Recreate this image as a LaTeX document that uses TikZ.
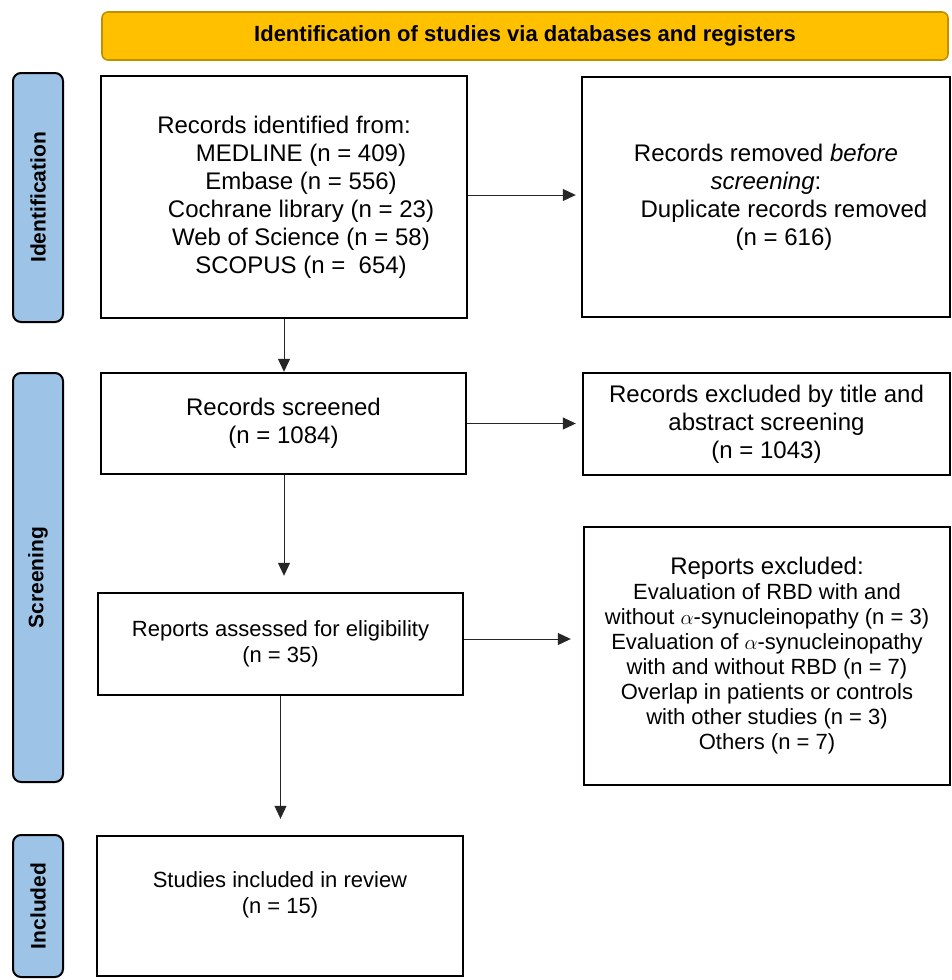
\documentclass[tikz,border=0pt]{standalone}
\usepackage{fontspec}
\setmainfont{Liberation Sans}
\usetikzlibrary{arrows.meta}
\definecolor{hdrfill}{HTML}{FFC000}
\definecolor{hdrline}{HTML}{C09000}
\definecolor{phasefill}{HTML}{9DC3E6}
\tikzset{
  box/.style={draw, line width=2.4pt, align=center, inner sep=0pt},
  phase/.style={draw, line width=2pt, rounded corners=8pt, fill=phasefill, minimum width=50pt,
    font=\fontsize{21}{24}\selectfont\bfseries},
  arr/.style={draw=black!85, line width=1pt, -{Triangle[length=13pt,width=12pt]}},
  big/.style={font=\fontsize{24}{28}\selectfont},
  small/.style={font=\fontsize{22}{26}\selectfont}
}
\begin{document}
\begin{tikzpicture}[x=1pt,y=-1pt]
  \useasboundingbox (0,0) rectangle (951,980);

  \node[draw=hdrline, line width=1.6pt, fill=hdrfill, rounded corners=6pt, minimum width=846pt,
    minimum height=48pt, font=\fontsize{22}{26}\selectfont\bfseries] (hdr) at (525,36)
    {Identification of studies via databases and registers};

  \node[phase, minimum height=249pt] (ph-id) at (38,197.5) {\rotatebox{90}{Identification}};
  \node[phase, minimum height=409pt] (ph-scr) at (38,577.5) {\rotatebox{90}{Screening}};
  \node[phase, minimum height=142pt] (ph-inc) at (38,906) {\rotatebox{90}{Included}};

  \node[box, big, minimum width=366pt, minimum height=242pt] (ident) at (284,197)
    {Records identified from:\\ \hspace*{34pt}MEDLINE (n = 409)\\ \hspace*{34pt}Embase (n = 556)\\
     \hspace*{34pt}Cochrane library (n = 23)\\ \hspace*{34pt}Web of Science (n = 58)\\
     \hspace*{34pt}SCOPUS (n = \ 654)};
  \node[box, big, minimum width=368pt, minimum height=240pt] (removed) at (766,197)
    {Records removed \textit{before}\\ \textit{screening}:\\ \hspace*{36pt}Duplicate records removed\\
     \hspace*{36pt}(n = 616)};
  \node[box, big, minimum width=365pt, minimum height=101pt] (screened) at (283.5,423.5)
    {Records screened\\ (n = 1084)};
  \node[box, big, minimum width=367pt, minimum height=102pt] (excl-ta) at (766.5,424)
    {Records excluded by title and\\ abstract screening\\ (n = 1043)};
  \node[box, small, minimum width=365pt, minimum height=102pt] (assessed) at (280.5,644)
    {Reports assessed for eligibility\\ (n = 35)};
  \node[box, minimum width=366pt, minimum height=258pt, font=\fontsize{22}{25}\selectfont] (excl-rep) at (767,656)
    {{\fontsize{24}{25}\selectfont Reports excluded:}\\ Evaluation of RBD with and\\
     without $\alpha$-synucleinopathy (n = 3)\\ Evaluation of $\alpha$-synucleinopathy\\
     with and without RBD (n = 7)\\ Overlap in patients or controls\\
     with other studies (n = 3)\\ Others (n = 7)};
  \node[box, minimum width=366pt, minimum height=140pt] (included) at (280,906) {};
  \node[small, align=center] (included-txt) at ([yshift=11pt]included.center)
    {Studies included in review\\ (n = 15)};

  \draw[arr] (ident.south) -- (ident.south |- screened.north);
  \draw[arr, shorten >=16pt] ([xshift=0.5pt]screened.south) -- ([xshift=0.5pt]screened.south |- assessed.north);
  \draw[arr, shorten >=16pt] (assessed.south) -- (assessed.south |- included.north);
  \draw[arr, shorten >=5pt] ([yshift=2pt]ident.east) -- ([yshift=2pt]ident.east -| removed.west);
  \draw[arr, shorten >=6pt] (screened.east) -- (screened.east -| excl-ta.west);
  \draw[arr, shorten >=12pt] ([yshift=5pt]assessed.east) -- ([yshift=5pt]assessed.east -| excl-rep.west);
\end{tikzpicture}
\end{document}
